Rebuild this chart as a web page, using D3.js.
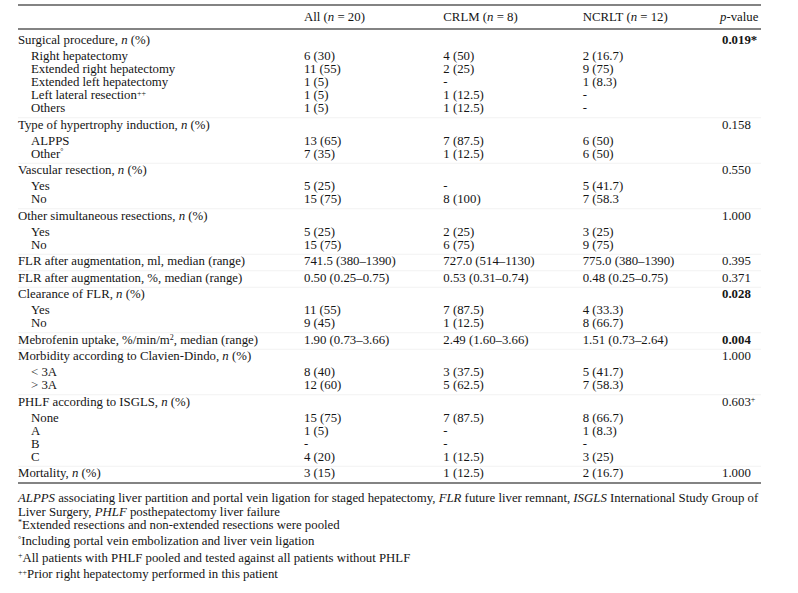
<!DOCTYPE html>
<html>
<head>
<meta charset="utf-8">
<script src="https://cdn.jsdelivr.net/npm/d3@7"></script>
<style>
  body { margin: 0; background: #fff; }
  text { font-family: "Liberation Serif", "Times New Roman", serif; fill: #151515; }
</style>
</head>
<body>
<div class="tablediv"></div>
<script>
const WIDTH = 798, HEIGHT = 593;
const FONT = 12.8;

// column headers
const columns = ["all", "crlm", "ncrlt", "p"];
const headers = ["All (<i>n</i> = 20)", "CRLM (<i>n</i> = 8)", "NCRLT (<i>n</i> = 12)", "<i>p</i>-value"];

// row labels and kind: h = group header, s = sub row, r = single row
const rowLabels = [
  "Surgical procedure, <i>n</i> (%)",
  "Right hepatectomy", "Extended right hepatectomy", "Extended left hepatectomy",
  "Left lateral resection<sup>++</sup>", "Others",
  "Type of hypertrophy induction, <i>n</i> (%)", "ALPPS", "Other<sup>°</sup>",
  "Vascular resection, <i>n</i> (%)", "Yes", "No",
  "Other simultaneous resections, <i>n</i> (%)", "Yes", "No",
  "FLR after augmentation, ml, median (range)",
  "FLR after augmentation, %, median (range)",
  "Clearance of FLR, <i>n</i> (%)", "Yes", "No",
  "Mebrofenin uptake, %/min/m<sup>2</sup>, median (range)",
  "Morbidity according to Clavien-Dindo, <i>n</i> (%)", "< 3A", "> 3A",
  "PHLF according to ISGLS, <i>n</i> (%)", "None", "A", "B", "C",
  "Mortality, <i>n</i> (%)"
];
const rowKinds = ["h","s","s","s","s","s","h","s","s","h","s","s","h","s","s",
  "r","r","h","s","s","r","h","s","s","h","s","s","s","s","r"];

const allVals = ["", "6 (30)", "11 (55)", "1 (5)", "1 (5)", "1 (5)",
  "", "13 (65)", "7 (35)", "", "5 (25)", "15 (75)", "", "5 (25)", "15 (75)",
  "741.5 (380–1390)", "0.50 (0.25–0.75)", "", "11 (55)", "9 (45)",
  "1.90 (0.73–3.66)", "", "8 (40)", "12 (60)", "", "15 (75)", "1 (5)", "-", "4 (20)",
  "3 (15)"];
const crlmVals = ["", "4 (50)", "2 (25)", "-", "1 (12.5)", "1 (12.5)",
  "", "7 (87.5)", "1 (12.5)", "", "-", "8 (100)", "", "2 (25)", "6 (75)",
  "727.0 (514–1130)", "0.53 (0.31–0.74)", "", "7 (87.5)", "1 (12.5)",
  "2.49 (1.60–3.66)", "", "3 (37.5)", "5 (62.5)", "", "7 (87.5)", "-", "-", "1 (12.5)",
  "1 (12.5)"];
const ncrltVals = ["", "2 (16.7)", "9 (75)", "1 (8.3)", "-", "-",
  "", "6 (50)", "6 (50)", "", "5 (41.7)", "7 (58.3", "", "3 (25)", "9 (75)",
  "775.0 (380–1390)", "0.48 (0.25–0.75)", "", "4 (33.3)", "8 (66.7)",
  "1.51 (0.73–2.64)", "", "5 (41.7)", "7 (58.3)", "", "8 (66.7)", "1 (8.3)", "-", "3 (25)",
  "2 (16.7)"];
const pVals = ["<b>0.019*</b>", "", "", "", "", "",
  "0.158", "", "", "0.550", "", "", "1.000", "", "",
  "0.395", "0.371", "<b>0.028</b>", "", "",
  "<b>0.004</b>", "1.000", "", "", "0.603<sup>+</sup>", "", "", "", "",
  "1.000"];

const footnotes = [
  "<i>ALPPS</i> associating liver partition and portal vein ligation for staged hepatectomy, <i>FLR</i> future liver remnant, <i>ISGLS</i> International Study Group of",
  "Liver Surgery, <i>PHLF</i> posthepatectomy liver failure",
  "<sup>*</sup>Extended resections and non-extended resections were pooled",
  "<sup>°</sup>Including portal vein embolization and liver vein ligation",
  "<sup>+</sup>All patients with PHLF pooled and tested against all patients without PHLF",
  "<sup>++</sup>Prior right hepatectomy performed in this patient"
];
const footWrapped = [false, true, false, false, false, false];

// very small markup parser: <i>, <b>, <sup>
function richText(sel, str) {
  const parts = str.split(/(<\/?(?:i|b|sup)>)/);
  let italic = false, bold = false, sup = false, shift = 0;
  parts.forEach(function(p) {
    if (p === "<i>") italic = true;
    else if (p === "</i>") italic = false;
    else if (p === "<b>") bold = true;
    else if (p === "</b>") bold = false;
    else if (p === "<sup>") sup = true;
    else if (p === "</sup>") sup = false;
    else if (p.length) {
      const t = sel.append("tspan").text(p);
      if (italic) t.style("font-style", "italic");
      if (bold) t.style("font-weight", "bold");
      const want = sup ? -3.5 : 0;
      if (want !== shift) { t.attr("dy", want - shift); shift = want; }
      if (sup) t.style("font-size", "8px");
    }
  });
}

const svg = d3.select(".tablediv").append("svg")
  .attr("width", WIDTH).attr("height", HEIGHT);

const left = 18, right = 761, subIndent = 13;
const x = d3.scalePoint().domain(columns).range([304, 722]);

// row centres
const yPos = [];
let cy = 40;
rowKinds.forEach(function(k, i) {
  if (i > 0) cy += k === "s" ? (rowKinds[i - 1] === "s" ? 13 : 16) : 16.5;
  yPos.push(cy);
});
const y = d3.scaleOrdinal().domain(d3.range(rowKinds.length)).range(yPos);

// rules
const topRule = 5, headRule = 29, bottomRule = y(rowKinds.length - 1) + 10;
svg.selectAll("line.rule").data([topRule, headRule, bottomRule]).join("line")
  .attr("class", "rule")
  .attr("x1", left).attr("x2", right)
  .attr("y1", d => d).attr("y2", d => d)
  .attr("stroke", "#5a5a5a").attr("stroke-width", 1.6);

// faint separators between groups
const sepRows = d3.range(1, rowKinds.length).filter(i => rowKinds[i] !== "s");
svg.selectAll("line.sep").data(sepRows).join("line")
  .attr("class", "sep")
  .attr("x1", left).attr("x2", right)
  .attr("y1", i => (y(i) + y(i - 1)) / 2 + 1.5)
  .attr("y2", i => (y(i) + y(i - 1)) / 2 + 1.5)
  .attr("stroke", "#efefef").attr("stroke-width", 0.8);

// header
svg.selectAll("text.head").data(headers).join("text")
  .attr("class", "head")
  .attr("x", (d, i) => x(columns[i]) - (i === 3 ? 2 : 0))
  .attr("y", 17).attr("dy", "0.35em")
  .style("font-size", FONT + "px")
  .each(function(d) { richText(d3.select(this), d); });

// labels
svg.selectAll("text.label").data(rowLabels).join("text")
  .attr("class", "label")
  .attr("x", (d, i) => rowKinds[i] === "s" ? left + subIndent : left)
  .attr("y", (d, i) => y(i)).attr("dy", "0.35em")
  .style("font-size", FONT + "px")
  .each(function(d) { richText(d3.select(this), d); });

// value cells
const series = [allVals, crlmVals, ncrltVals, pVals];
series.forEach(function(vals, c) {
  svg.selectAll("text.c" + c).data(vals.map((v, i) => ({v: v, i: i})).filter(d => d.v))
    .join("text")
    .attr("class", "c" + c)
    .attr("x", x(columns[c]))
    .attr("y", d => y(d.i)).attr("dy", "0.35em")
    .style("font-size", FONT + "px")
    .each(function(d) { richText(d3.select(this), d.v); });
});

// footnotes
const footY = [];
let fy = 498;
footWrapped.forEach(function(w, i) {
  if (i > 0) fy += w ? 14 : 16.5;
  footY.push(fy);
});
svg.selectAll("text.foot").data(footnotes).join("text")
  .attr("class", "foot")
  .attr("x", left)
  .attr("y", (d, i) => footY[i]).attr("dy", "0.35em")
  .style("font-size", FONT + "px")
  .each(function(d) { richText(d3.select(this), d); });
</script>
</body>
</html>
